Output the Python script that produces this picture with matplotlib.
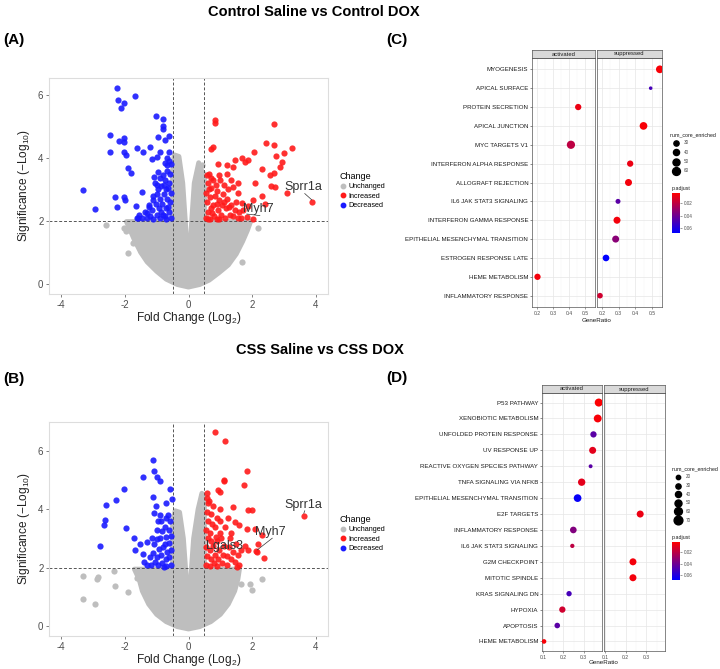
import numpy as np
import matplotlib
matplotlib.use('Agg')
import matplotlib.pyplot as plt
from matplotlib.colors import LinearSegmentedColormap, Normalize
from matplotlib.lines import Line2D

plt.rcParams['font.family'] = 'Liberation Sans'
plt.rcParams['axes.unicode_minus'] = False
plt.rcParams['mathtext.default'] = 'regular'

# ---------------- volcano data (A: control, B: CSS) ----------------
blue_a = [(-2.25,6.23),(-1.68,5.98),(-2.20,5.85),(-2.02,5.74),(-2.13,5.60),(-1.03,5.33),(-0.81,5.24),
          (-0.81,5.02),(-0.79,4.91),(-2.46,4.73),(-2.04,4.62),(-2.17,4.54),(-2.02,4.52),(-0.95,4.66),
          (-0.74,4.57),(-0.60,4.70),(-1.21,4.36),(-1.62,4.33),(-2.46,4.18),(-2.04,4.20),(-1.96,4.10),
          (-1.44,4.19),(-1.15,3.97),(-0.89,4.20),(-0.99,4.04),(-1.89,3.67),(-1.81,3.53),(-0.68,3.78),
          (-3.32,2.98),(-2.93,2.37),(-2.30,2.75),(-2.02,2.75),(-1.99,2.67),(-2.25,2.43),(-1.47,2.91),
          (-1.66,2.46),(-1.57,2.08),(-1.31,2.24),(-1.12,2.79),(-0.99,3.14),(-1.25,2.51),
          (-0.55,2.1),(-0.6,2.3),(-0.58,2.6),(-0.55,2.9),(-0.6,3.2),(-0.57,3.5),(-0.55,3.8),(-0.62,3.9),
          (-0.7,2.05),(-0.72,2.4),(-0.68,2.7),(-0.7,3.0),(-0.73,3.3),(-0.69,3.6),(-0.75,3.85),(-0.8,2.2),
          (-0.82,2.55),(-0.78,2.85),(-0.85,3.1),(-0.8,3.45),(-0.9,2.1),(-0.92,2.4),(-0.88,2.7),(-0.95,3.0),
          (-0.9,3.35),(-1.0,2.2),(-1.02,2.55),(-0.98,2.85),(-1.05,3.2),(-1.1,2.05),(-1.15,2.35),(-1.12,2.65),
          (-1.2,2.15),(-1.25,2.45),(-1.3,2.1),(-1.38,2.3),(-1.45,2.1),(-1.55,2.2),(-1.62,2.1),(-0.65,2.45),
          (-0.63,3.05),(-0.77,3.15),(-0.86,2.3),(-0.95,3.55),(-0.66,4.0),(-0.6,4.2),(-1.08,3.4),(-0.74,2.15)]
red_a = [(0.84,5.21),(0.84,5.10),(2.67,5.07),(2.42,4.49),(2.68,4.41),(3.24,4.31),(0.78,4.34),(0.70,4.30),
         (2.75,4.06),(3.00,4.15),(2.06,4.18),(1.77,3.88),(1.46,3.94),(1.67,4.00),(1.88,3.92),(0.94,3.81),
         (1.20,3.78),(1.41,3.72),(2.93,3.88),(2.88,3.72),(2.30,3.64),(2.56,3.46),(2.68,3.51),(2.71,3.09),
         (2.58,3.11),(3.08,2.88),(3.87,2.59),(2.09,3.20),(2.30,2.79),(2.41,2.54),(2.04,2.67),(1.88,2.46),
         (1.83,2.14),(2.02,2.05),(1.67,2.56),(1.54,2.88),(1.41,3.09),
         (0.55,2.1),(0.6,2.3),(0.58,2.6),(0.56,2.9),(0.6,3.2),(0.57,3.45),(0.65,3.5),(0.68,2.05),(0.7,2.4),
         (0.66,2.75),(0.72,3.05),(0.7,3.35),(0.8,2.15),(0.78,2.5),(0.82,2.8),(0.85,3.15),(0.9,2.05),
         (0.92,2.35),(0.95,2.65),(0.9,2.95),(1.0,3.3),(1.02,2.2),(1.05,2.5),(1.08,2.85),(1.15,2.1),(1.18,2.4),
         (1.2,2.7),(1.25,3.0),(1.3,2.2),(1.35,2.5),(1.4,2.15),(1.45,2.35),(1.5,2.6),(1.55,2.1),(1.6,2.3),
         (1.65,2.1),(1.72,2.35),(1.1,3.15),(0.62,2.05),(0.75,2.25),(0.88,2.55),(0.97,2.05),(1.12,2.6),
         (1.28,2.45),(0.64,3.0),(0.76,3.3),(1.32,3.3),(1.55,3.2),(1.2,3.5),(0.95,3.45)]
grey_a_outline = [(0,-0.1),(-0.35,-0.02),(-0.7,0.15),(-1.0,0.4),(-1.3,0.7),(-1.5,1.0),(-1.7,1.4),
                  (-1.85,1.75),(-1.95,1.98),(-0.5,1.98),(-0.5,3.6),(-0.45,4.1),(-0.3,4.05),(-0.18,3.2),
                  (-0.1,2.0),(-0.04,1.0),(0,0.4),(0.04,1.0),(0.1,2.0),(0.18,3.2),(0.32,3.85),(0.45,3.5),
                  (0.5,3.5),(0.5,1.98),(1.95,1.98),(1.85,1.7),(1.7,1.35),(1.5,0.95),(1.25,0.6),(0.95,0.35),
                  (0.65,0.12),(0.35,-0.02)]
grey_a = [(-2.59,1.87),(-2.02,1.78),(-1.96,1.68),(-1.9,0.98),(-1.74,1.3),(-1.49,1.05),(2.18,1.78),
          (1.67,0.70),(1.23,0.76),(0.41,3.78)]

blue_b = [(-1.10,5.68),(-1.08,5.32),(-0.99,5.09),(-0.91,4.98),(-1.42,5.09),(-2.02,4.71),(-2.28,4.32),
          (-2.59,4.13),(-1.10,4.41),(-0.58,4.68),(-0.53,4.34),(-0.71,4.21),(-1.02,4.12),(-2.62,3.64),
          (-2.64,3.45),(-1.96,3.36),(-2.77,2.73),(-1.71,3.02),(-1.68,2.59),(-1.52,2.81),(-1.44,2.48),
          (-1.31,2.87),(-1.15,3.02),(-0.99,2.98),(-1.08,3.86),
          (-0.55,2.1),(-0.6,2.35),(-0.56,2.6),(-0.6,2.85),(-0.55,3.1),(-0.62,3.3),(-0.58,3.6),(-0.7,2.05),
          (-0.72,2.3),(-0.68,2.55),(-0.74,2.8),(-0.7,3.05),(-0.75,3.4),(-0.72,3.7),(-0.82,2.15),(-0.85,2.45),
          (-0.8,2.7),(-0.88,3.0),(-0.84,3.25),(-0.86,3.6),(-0.95,2.1),(-0.98,2.35),(-0.93,2.65),(-1.0,3.3),
          (-0.95,3.6),(-1.05,2.2),(-1.1,2.5),(-1.08,2.8),(-1.18,2.1),(-1.22,2.35),(-1.3,2.1),(-1.4,2.2),
          (-0.65,3.8),(-0.9,3.8),(-0.78,2.02)]
red_b = [(0.83,6.66),(1.16,6.33),(1.83,5.31),(1.10,5.00),(1.13,4.98),(1.75,4.83),(0.94,4.66),(0.57,4.57),
         (0.57,4.38),(0.62,4.21),(0.99,4.60),(1.41,4.09),(1.88,3.96),(2.00,3.96),(3.62,3.78),(1.46,3.58),
         (1.59,3.47),(1.85,3.32),(2.08,3.32),(2.30,3.11),(2.19,2.82),(2.12,2.56),(2.16,2.53),(2.38,2.34),
         (1.51,2.02),(1.77,2.73),(1.88,2.62),
         (0.55,2.1),(0.58,2.4),(0.56,2.7),(0.6,3.0),(0.55,3.3),(0.62,3.6),(0.58,3.9),(0.68,2.05),(0.7,2.3),
         (0.66,2.6),(0.72,2.9),(0.68,3.2),(0.74,3.5),(0.7,3.85),(0.8,2.15),(0.82,2.45),(0.78,2.75),(0.85,3.05),
         (0.82,3.4),(0.9,2.05),(0.92,2.3),(0.95,2.6),(0.9,2.9),(1.0,3.2),(0.98,3.6),(1.05,2.15),(1.08,2.45),
         (1.12,2.75),(1.02,3.0),(1.15,3.4),(1.2,2.1),(1.22,2.4),(1.28,2.7),(1.3,3.0),(1.35,2.3),(1.4,2.55),
         (1.45,2.2),(1.5,2.8),(1.55,2.45),(1.6,2.1),(1.65,2.6),(1.25,3.7),(1.0,4.0),(0.78,4.1),(0.65,4.3),
         (0.88,3.7),(1.35,3.2)]
grey_b_outline = [(0,-0.1),(-0.35,-0.02),(-0.7,0.15),(-1.0,0.4),(-1.25,0.75),(-1.45,1.2),(-1.55,1.6),
                  (-1.7,1.95),(-0.5,1.95),(-0.5,3.5),(-0.42,3.95),(-0.28,3.9),(-0.16,3.0),(-0.08,1.8),
                  (0,0.45),(0.08,1.8),(0.16,3.0),(0.3,4.0),(0.42,4.55),(0.5,4.4),(0.5,1.95),(1.6,1.95),
                  (1.55,1.6),(1.45,1.2),(1.25,0.75),(1.0,0.4),(0.7,0.15),(0.35,-0.02)]
grey_b = [(-3.32,0.92),(-2.93,0.77),(-3.32,1.71),(-2.88,1.60),(-2.83,1.69),(-2.30,1.37),(-2.34,1.87),
          (-1.89,1.17),(-1.63,1.63),(1.98,1.24),(2.30,1.62),(1.93,1.43),(1.65,1.43),(-0.4,3.9)]

# gene labels: (name, label x, label y, point x, point y)
labels_a = [('Sprr1a', 3.6, 3.07, 3.87, 2.59), ('Myh7', 2.19, 2.37, 1.83, 2.14)]
labels_b = [('Sprr1a', 3.6, 4.15, 3.62, 3.78), ('Lgals3', 1.12, 2.75, None, None),
            ('Myh7', 2.58, 3.21, 2.16, 2.53)]

# ---------------- GSEA dot plot data ----------------
c_terms = ['MYOGENESIS', 'APICAL SURFACE', 'PROTEIN SECRETION', 'APICAL JUNCTION', 'MYC TARGETS V1',
           'INTERFERON ALPHA RESPONSE', 'ALLOGRAFT REJECTION', 'IL6 JAK STAT3 SIGNALING',
           'INTERFERON GAMMA RESPONSE', 'EPITHELIAL MESENCHYMAL TRANSITION', 'ESTROGEN RESPONSE LATE',
           'HEME METABOLISM', 'INFLAMMATORY RESPONSE']
c_group = ['suppressed', 'suppressed', 'activated', 'suppressed', 'activated', 'suppressed', 'suppressed',
           'suppressed', 'suppressed', 'suppressed', 'suppressed', 'activated', 'suppressed']
c_ratio = [0.547, 0.492, 0.456, 0.449, 0.411, 0.369, 0.359, 0.296, 0.290, 0.282, 0.224, 0.204, 0.188]
c_count = [58, 11, 42, 58, 64, 42, 50, 27, 50, 50, 46, 42, 34]
c_padj = [0.005, 0.05, 0.008, 0.005, 0.02, 0.008, 0.006, 0.045, 0.006, 0.033, 0.068, 0.006, 0.015]
c_size_breaks = [30, 40, 50, 60]

d_terms = ['P53 PATHWAY', 'XENOBIOTIC METABOLISM', 'UNFOLDED PROTEIN RESPONSE', 'UV RESPONSE UP',
           'REACTIVE OXYGEN SPECIES PATHWAY', 'TNFA SIGNALING VIA NFKB', 'EPITHELIAL MESENCHYMAL TRANSITION',
           'E2F TARGETS', 'INFLAMMATORY RESPONSE', 'IL6 JAK STAT3 SIGNALING', 'G2M CHECKPOINT',
           'MITOTIC SPINDLE', 'KRAS SIGNALING DN', 'HYPOXIA', 'APOPTOSIS', 'HEME METABOLISM']
d_group = ['activated', 'activated', 'activated', 'activated', 'activated', 'activated', 'activated',
           'suppressed', 'activated', 'activated', 'suppressed', 'suppressed', 'activated', 'activated',
           'activated', 'activated']
d_ratio = [0.374, 0.369, 0.348, 0.344, 0.334, 0.290, 0.270, 0.270, 0.249, 0.244, 0.235, 0.235, 0.228,
           0.195, 0.170, 0.105]
d_count = [62, 60, 42, 50, 15, 54, 58, 50, 46, 19, 50, 50, 31, 42, 34, 23]
d_padj = [0.004, 0.005, 0.045, 0.01, 0.045, 0.01, 0.066, 0.008, 0.035, 0.02, 0.006, 0.006, 0.05, 0.015,
          0.045, 0.005]
d_size_breaks = [20, 30, 40, 50, 60, 70]

W, H = 720, 669
fig = plt.figure(figsize=(7.2, 6.69), dpi=100)


def frac(x0, y0, x1, y1):
    # pixel box -> figure fraction [left, bottom, width, height]
    return [x0 / W, 1 - y1 / H, (x1 - x0) / W, (y1 - y0) / H]


GREY = '#bebebe'
RED = '#ff1a1a'
BLUE = '#1a1aff'


def volcano(box, ylim, blue, red, outline, grey, labels, leg_y):
    ax = fig.add_axes(frac(*box))
    ox, oy = zip(*outline)
    ax.fill(ox, oy, color=GREY, ec=GREY, lw=3.5, joinstyle='round', zorder=1)
    gx, gy = zip(*grey)
    ax.scatter(gx, gy, s=20, color=GREY, lw=0, zorder=1)
    bx, by = zip(*blue)
    ax.scatter(bx, by, s=20, color=BLUE, lw=0, alpha=0.9, zorder=3)
    rx, ry = zip(*red)
    ax.scatter(rx, ry, s=20, color=RED, lw=0, alpha=0.9, zorder=3)
    for v in (-0.5, 0.5):
        ax.axvline(v, color='#555555', ls=(0, (3, 2)), lw=0.7, zorder=2)
    ax.axhline(2, color='#555555', ls=(0, (3, 2)), lw=0.7, zorder=2)
    for name, tx, ty, px, py in labels:
        ax.text(tx, ty, name, fontsize=9, color='#333333', ha='center', va='center', zorder=5)
        if px is not None:
            ax.plot([tx + 0.05, px], [ty - 0.2, py + 0.08], color='#333333', lw=0.5, zorder=4)
    ax.set_xlim(-4.38, 4.38)
    ax.set_ylim(*ylim)
    ax.set_xticks([-4, -2, 0, 2, 4])
    ax.set_yticks([0, 2, 4, 6])
    ax.tick_params(labelsize=7, colors='#4d4d4d', length=2.5, width=0.5, pad=1.5)
    for sp in ax.spines.values():
        sp.set_color('#dddddd')
        sp.set_linewidth(0.8)
    ax.set_xlabel('Fold Change (Log$_2$)', fontsize=8.6, color='#222222', labelpad=0.3)
    ax.set_ylabel('Significance ($-$Log$_{10}$)', fontsize=8.6, color='#222222', labelpad=4)
    handles = [Line2D([], [], ls='', marker='o', ms=3.2, color=c) for c in (GREY, RED, BLUE)]
    leg = ax.legend(handles, ['Unchanged', 'Increased', 'Decreased'], title='Change',
                    loc='upper left', bbox_to_anchor=(333 / W, 1 - leg_y / H),
                    bbox_transform=fig.transFigure, frameon=False, fontsize=5.2,
                    title_fontproperties={'size': 6.5}, handletextpad=0.2, labelspacing=0.35,
                    handlelength=1.0)
    leg._legend_box.align = 'left'
    return ax


volcano((49, 78, 328, 294), (-0.32, 6.54), blue_a, red_a, grey_a_outline, grey_a, labels_a, 165)
volcano((49, 422, 328, 636), (-0.34, 6.99), blue_b, red_b, grey_b_outline, grey_b, labels_b, 508)

cmap = LinearSegmentedColormap.from_list('padj', ['#ff0000', '#0000ff'])
norm = Normalize(0.003, 0.068)


def dot_size(n):
    d_px = 2.6 + 0.088 * np.asarray(n, dtype=float)
    return (d_px * 0.72) ** 2


def dotplot(terms, group, ratio, count, padj, boxes, strip_h, xlim, xticks, minor, breaks,
            leg_pos, cb_box, xlabel_y):
    n = len(terms)
    ypos = np.arange(n)[::-1]
    for k, (name, box) in enumerate(zip(['activated', 'suppressed'], boxes)):
        ax = fig.add_axes(frac(*box))
        m = np.array([g == name for g in group])
        ax.scatter(np.array(ratio)[m], ypos[m], s=dot_size(np.array(count)[m]),
                   c=np.array(padj)[m], cmap=cmap, norm=norm, lw=0, zorder=3)
        ax.set_xlim(*xlim)
        ax.set_ylim(-0.6, n - 0.4)
        ax.set_xticks(xticks)
        ax.set_xticks(minor, minor=True)
        ax.set_xticklabels([f'{t:g}' for t in xticks])
        ax.set_yticks(ypos)
        ax.grid(True, which='major', color='#e6e6e6', lw=0.5)
        ax.grid(True, which='minor', axis='x', color='#f2f2f2', lw=0.3)
        ax.set_axisbelow(True)
        ax.tick_params(axis='x', labelsize=3.6, colors='#4d4d4d', length=1.5, width=0.4, pad=1.2)
        ax.tick_params(axis='x', which='minor', length=0)
        ax.tick_params(axis='y', labelsize=4.4, colors='#333333', length=1.5, width=0.4, pad=1.2)
        if k == 0:
            ax.set_yticklabels(terms)
            for t in ax.get_yticklabels():
                t.set_color('#1a1a1a')
        else:
            ax.set_yticklabels([])
            ax.tick_params(axis='y', length=0)
        for sp in ax.spines.values():
            sp.set_color('#555555')
            sp.set_linewidth(0.5)
        sx0, sy0, sx1, sy1 = box
        st = fig.add_axes(frac(sx0, sy0 - strip_h, sx1, sy0))
        st.set_facecolor('#d9d9d9')
        st.set_xticks([])
        st.set_yticks([])
        for sp in st.spines.values():
            sp.set_color('#555555')
            sp.set_linewidth(0.5)
        st.text(0.5, 0.5, name, fontsize=4.2, color='#1a1a1a', ha='center', va='center',
                transform=st.transAxes)
    mid = (boxes[0][0] + boxes[1][2]) / 2
    fig.text(mid / W, 1 - xlabel_y / H, 'GeneRatio', fontsize=4.5, ha='center', va='center',
             color='#1a1a1a')

    # size legend
    lx, ly, step = leg_pos
    fig.text(lx / W, 1 - ly / H, 'num_core_enriched', fontsize=3.8, ha='left', va='center',
             color='#1a1a1a')
    for i, b in enumerate(breaks):
        yy = 1 - (ly + 8 + i * step) / H
        fig.add_artist(Line2D([(lx + 6) / W], [yy], ls='', marker='o', color='black',
                              ms=np.sqrt(dot_size(b)), transform=fig.transFigure))
        fig.text((lx + 14) / W, yy, str(b), fontsize=3.3, va='center', color='#4d4d4d')

    # colour legend
    cx0, cy0, cx1, cy1 = cb_box
    fig.text(cx0 / W, 1 - (cy0 - 5) / H, 'p.adjust', fontsize=3.8, ha='left', va='center',
             color='#1a1a1a')
    cax = fig.add_axes(frac(*cb_box))
    sm = plt.cm.ScalarMappable(norm=norm, cmap=cmap)
    cb = fig.colorbar(sm, cax=cax)
    cb.outline.set_visible(False)
    cax.invert_yaxis()
    cb.set_ticks([0.02, 0.04, 0.06])
    cax.tick_params(labelsize=3.3, colors='#4d4d4d', length=1.5, width=0.4, pad=1.5)


dotplot(c_terms, c_group, c_ratio, c_count, c_padj,
        [(532, 58, 595, 307), (597, 58, 662, 307)], 8, (0.17, 0.56),
        [0.2, 0.3, 0.4, 0.5], [0.25, 0.35, 0.45, 0.55], c_size_breaks,
        (670, 135, 9.3), (672, 193, 680, 233), 320)

dotplot(d_terms, d_group, d_ratio, d_count, d_padj,
        [(542, 393, 602, 651), (604, 393, 665, 651)], 8, (0.095, 0.39),
        [0.1, 0.2, 0.3], [0.15, 0.25, 0.35], d_size_breaks,
        (672, 469, 8.6), (672, 542, 680, 580), 663)

# titles and panel tags
fig.text(314 / W, 1 - 12 / H, 'Control Saline vs Control DOX', fontsize=10.5, fontweight='bold',
         ha='center', va='center')
fig.text(320 / W, 1 - 350 / H, 'CSS Saline vs CSS DOX', fontsize=10.5, fontweight='bold',
         ha='center', va='center')
for tag, x, y in [('(A)', 3, 40), ('(C)', 386, 40), ('(B)', 3, 379), ('(D)', 386, 378)]:
    fig.text(x / W, 1 - y / H, tag, fontsize=11, fontweight='bold', ha='left', va='center')

fig.savefig('out.png', dpi=100, facecolor='white')
